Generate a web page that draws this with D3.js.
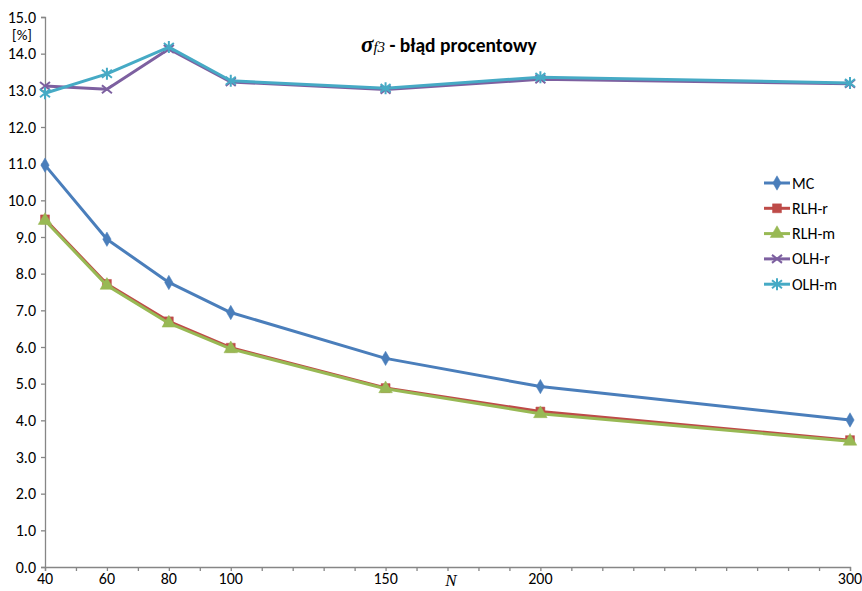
<!DOCTYPE html>
<html>
<head>
<meta charset="utf-8">
<script src="https://cdn.jsdelivr.net/npm/d3@7"></script>
<style>
  body { margin: 0; background: #fff; }
  svg text { font-family: Carlito, "Open Sans", "Liberation Sans", sans-serif; }
</style>
</head>
<body>
<div id="chart"></div>
<script>
// x values (N) and series values [%]
var nValues = [40, 60, 80, 100, 150, 200, 300];
var xTickLabels = [40, 60, 80, 100, 150, 200, 300];
var yTicks = [0, 1, 2, 3, 4, 5, 6, 7, 8, 9, 10, 11, 12, 13, 14, 15];

var mc   = [10.96, 8.94, 7.76, 6.94, 5.69, 4.92, 4.01];
var rlhR = [9.48, 7.72, 6.70, 5.98, 4.88, 4.24, 3.46];
var rlhM = [9.45, 7.68, 6.65, 5.95, 4.86, 4.18, 3.43];
var olhR = [13.12, 13.03, 14.13, 13.23, 13.02, 13.30, 13.18];
var olhM = [12.92, 13.45, 14.18, 13.26, 13.06, 13.36, 13.20];

var seriesNames = ['MC', 'RLH-r', 'RLH-m', 'OLH-r', 'OLH-m'];
var seriesValues = [mc, rlhR, rlhM, olhR, olhM];
var seriesColors = ['#4A7EBB', '#BE4B48', '#98B954', '#7D60A0', '#46AAC5'];
var seriesMarkers = ['diamond', 'square', 'triangle', 'x', 'star'];

var width = 862, height = 591;
var margin = { top: 17, right: 12, bottom: 24, left: 45 };

var svg = d3.select('#chart').append('svg')
  .attr('width', width)
  .attr('height', height);

var x = d3.scaleLinear().domain([40, 300]).range([margin.left, width - margin.right]);
var y = d3.scaleLinear().domain([0, 15]).range([height - margin.bottom, margin.top]);

var axisColor = '#868686';
var fontSize = 16;

// x axis: minor ticks every 10, labels at the sample points
var xAxis = svg.append('g')
  .attr('transform', 'translate(0,' + y(0) + ')')
  .call(d3.axisBottom(x).tickValues(d3.range(40, 301, 10)).tickSize(4).tickFormat(''));
xAxis.select('.domain').attr('stroke', axisColor).attr('stroke-width', 1.3);
xAxis.selectAll('.tick line').attr('stroke', axisColor).attr('stroke-width', 1.3);

svg.append('g').selectAll('text')
  .data(xTickLabels)
  .enter().append('text')
  .attr('x', d => x(d))
  .attr('y', y(0) + 17)
  .attr('text-anchor', 'middle')
  .style('font-size', fontSize + 'px')
  .attr('fill', '#000')
  .text(d => d);

svg.append('text')
  .attr('x', 451)
  .attr('y', y(0) + 19)
  .attr('text-anchor', 'middle')
  .style('font-family', '"Liberation Serif", "DejaVu Serif", serif')
  .style('font-style', 'italic')
  .style('font-size', '17px')
  .text('N');

// y axis
var yAxis = svg.append('g')
  .attr('transform', 'translate(' + x(40) + ',0)')
  .call(d3.axisLeft(y).tickValues(yTicks).tickSize(4).tickPadding(5).tickFormat(d3.format('.1f')));
yAxis.select('.domain').attr('stroke', axisColor).attr('stroke-width', 1.3);
yAxis.selectAll('.tick line').attr('stroke', axisColor).attr('stroke-width', 1.3);
yAxis.selectAll('.tick text')
  .style('font-size', fontSize + 'px')
  .attr('fill', '#000');

svg.append('text')
  .attr('x', 22)
  .attr('y', 40)
  .attr('text-anchor', 'middle')
  .style('font-size', '15px')
  .text('[%]');

// title
var title = svg.append('text')
  .attr('x', 361)
  .attr('y', 52)
  .style('font-size', '19.5px')
  .style('font-weight', 'bold');
title.append('tspan')
  .style('font-family', '"Liberation Serif", "DejaVu Serif", serif')
  .style('font-style', 'italic')
  .style('font-size', '23px')
  .text('σ');
title.append('tspan')
  .style('font-family', '"Liberation Serif", "DejaVu Serif", serif')
  .style('font-style', 'italic')
  .style('font-weight', 'normal')
  .style('font-size', '15px')
  .text('f3');
title.append('tspan')
  .text(' - błąd procentowy');

// marker shapes
function markerPath(type, s) {
  if (type === 'diamond') return d3.symbol().type(d3.symbolDiamond).size(s * 6)();
  if (type === 'square') return d3.symbol().type(d3.symbolSquare).size(s * 8)();
  if (type === 'triangle') return d3.symbol().type(d3.symbolTriangle).size(s * 8)();
  if (type === 'x') return 'M-5,-4L5,4M-5,4L5,-4';
  return 'M-5,-4L5,4M-5,4L5,-4M0,-6L0,6';
}

var line = d3.line()
  .x((d, i) => x(nValues[i]))
  .y(d => y(d));

seriesValues.forEach(function(vals, k) {
  var g = svg.append('g');
  g.append('path')
    .datum(vals)
    .attr('d', line)
    .attr('fill', 'none')
    .attr('stroke', seriesColors[k])
    .attr('stroke-width', 3)
    .attr('stroke-linejoin', 'round');

  g.selectAll('path.mark')
    .data(vals)
    .enter().append('path')
    .attr('class', 'mark')
    .attr('transform', (d, i) => 'translate(' + x(nValues[i]) + ',' + y(d) + ')')
    .attr('d', markerPath(seriesMarkers[k], 10))
    .attr('fill', seriesColors[k])
    .attr('stroke', seriesColors[k])
    .attr('stroke-width', seriesMarkers[k] === 'x' || seriesMarkers[k] === 'star' ? 2 : 0.5);
});

// legend
var legend = svg.append('g');
seriesNames.forEach(function(name, k) {
  var ly = 183 + k * 25.3;
  legend.append('line')
    .attr('x1', 764).attr('x2', 790)
    .attr('y1', ly).attr('y2', ly)
    .attr('stroke', seriesColors[k])
    .attr('stroke-width', 3);
  legend.append('path')
    .attr('transform', 'translate(777,' + ly + ')')
    .attr('d', markerPath(seriesMarkers[k], 10))
    .attr('fill', seriesColors[k])
    .attr('stroke', seriesColors[k])
    .attr('stroke-width', seriesMarkers[k] === 'x' || seriesMarkers[k] === 'star' ? 2 : 0.5);
  legend.append('text')
    .attr('x', 792)
    .attr('y', ly + 5.5)
    .style('font-size', fontSize + 'px')
    .text(name);
});
</script>
</body>
</html>
